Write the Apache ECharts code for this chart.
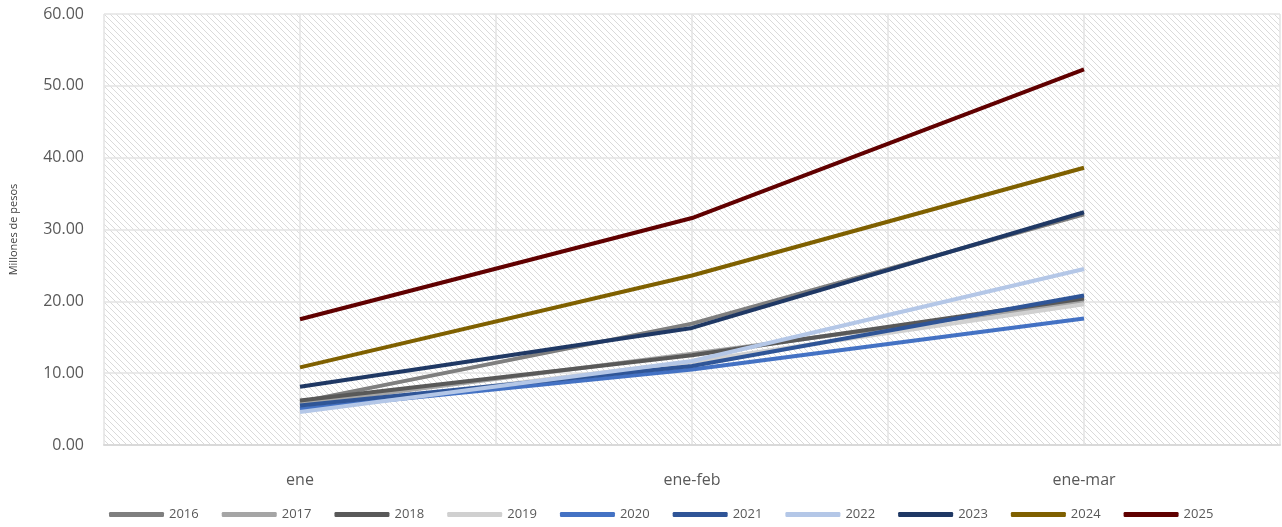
<!DOCTYPE html>
<html>
<head>
<meta charset="utf-8">
<script src="https://cdn.jsdelivr.net/npm/echarts@6/dist/echarts.min.js"></script>
<style>
    html, body { margin: 0; padding: 0; background: #fff; }
    #chart { width: 1282px; height: 527px; }
</style>
</head>
<body>
<div id="chart"></div>
<script>
    // categorias y valores (millones de pesos)
    var categories = ['ene', 'ene-feb', 'ene-mar'];
    var years = ['2016', '2017', '2018', '2019', '2020', '2021', '2022', '2023', '2024', '2025'];
    var v2016 = [6.0, 16.9, 32.1];
    var v2017 = [5.7, 12.7, 19.9];
    var v2018 = [6.2, 12.5, 20.4];
    var v2019 = [5.0, 11.6, 19.6];
    var v2020 = [5.0, 10.5, 17.6];
    var v2021 = [5.5, 11.0, 20.8];
    var v2022 = [4.6, 11.7, 24.5];
    var v2023 = [8.1, 16.3, 32.4];
    var v2024 = [10.8, 23.6, 38.6];
    var v2025 = [17.5, 31.6, 52.3];
    var yTicks = [0, 10, 20, 30, 40, 50, 60];

    var allValues = [v2016, v2017, v2018, v2019, v2020, v2021, v2022, v2023, v2024, v2025];
    var colors = ['#7f7f7f', '#a5a5a5', '#595959', '#d0d0d0', '#4472c4', '#2f5597',
                  '#b4c7e7', '#1f3864', '#7f6000', '#600000'];

    // fondo rayado del area de trazado
    var patCanvas = document.createElement('canvas');
    patCanvas.width = 6;
    patCanvas.height = 6;
    var ctx = patCanvas.getContext('2d');
    ctx.fillStyle = '#ffffff';
    ctx.fillRect(0, 0, 6, 6);
    ctx.strokeStyle = '#dadada';
    ctx.lineWidth = 1;
    ctx.beginPath();
    ctx.moveTo(-1, -1); ctx.lineTo(7, 7);
    ctx.moveTo(-4, 2); ctx.lineTo(4, 10);
    ctx.moveTo(2, -4); ctx.lineTo(10, 4);
    ctx.stroke();

    var chart = echarts.init(document.getElementById('chart'));

    var seriesList = [];
    for (var i = 0; i < years.length; i++) {
        seriesList.push({
            name: years[i],
            type: 'line',
            data: allValues[i],
            symbol: 'none',
            lineStyle: { width: 4, color: colors[i] },
            itemStyle: { color: colors[i] },
            z: 2 + i
        });
    }

    // eje auxiliar para las lineas verticales cada media categoria
    var halfCats = [];
    for (var k = 0; k < categories.length * 2; k++) { halfCats.push('h' + k); }

    var option = {
        backgroundColor: '#ffffff',
        animation: false,
        grid: {
            left: 102,
            right: 2,
            top: 14,
            bottom: 82,
            show: true,
            borderWidth: 0,
            backgroundColor: { image: patCanvas, repeat: 'repeat' }
        },
        legend: {
            bottom: 1,
            left: 104,
            data: years,
            icon: 'roundRect',
            itemWidth: 55,
            itemHeight: 5,
            itemGap: 23,
            textStyle: { color: '#595959', fontSize: 13, fontFamily: 'Open Sans' }
        },
        xAxis: [{
            type: 'category',
            data: categories,
            boundaryGap: true,
            axisLine: { lineStyle: { color: '#d9d9d9', width: 2 } },
            axisTick: { show: false },
            splitLine: { show: false },
            axisLabel: { color: '#595959', fontSize: 16, margin: 27, fontFamily: 'Open Sans' }
        }, {
            type: 'category',
            data: halfCats,
            position: 'bottom',
            boundaryGap: true,
            axisLine: { show: false },
            axisTick: { show: false },
            axisLabel: { show: false },
            splitLine: { show: true, lineStyle: { color: '#e3e3e3', width: 1.5 } }
        }],
        yAxis: {
            type: 'value',
            min: yTicks[0],
            max: yTicks[yTicks.length - 1],
            interval: 10,
            name: 'Millones de pesos',
            nameLocation: 'middle',
            nameGap: 85,
            nameRotate: 90,
            nameTextStyle: { color: '#404040', fontSize: 11, fontFamily: 'Open Sans' },
            axisLine: { show: false },
            axisTick: { show: false },
            axisLabel: {
                color: '#595959',
                fontSize: 16,
                margin: 20,
                fontFamily: 'Open Sans',
                formatter: function (v) { return v.toFixed(2); }
            },
            splitLine: { lineStyle: { color: '#e3e3e3', width: 1.5 } }
        },
        series: seriesList
    };
    chart.setOption(option);
</script>
</body>
</html>
